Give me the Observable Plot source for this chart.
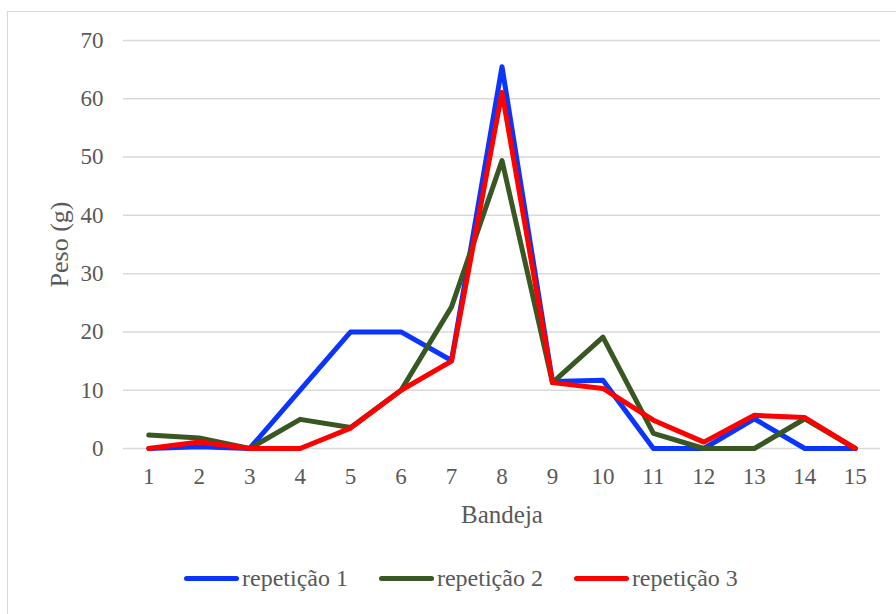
<!DOCTYPE html>
<html>
<head>
<meta charset="utf-8">
<script src="https://cdn.jsdelivr.net/npm/d3@7"></script>
<script src="https://cdn.jsdelivr.net/npm/@observablehq/plot@0.6"></script>
<style>
  html, body { margin: 0; padding: 0; background: #fff; }
  #wrap { position: relative; width: 896px; height: 614px; overflow: hidden; font-family: "Liberation Serif", "Times New Roman", serif; }
  #frame { position: absolute; left: 7px; top: 11px; width: 900px; height: 620px; border-left: 1.5px solid #d9d9d9; border-top: 1.5px solid #d9d9d9; box-sizing: border-box; }
  #chart { position: absolute; left: 0; top: 0; }
  #legend { position: absolute; left: 184px; top: 565px; display: flex; align-items: center; color: #595959; font-size: 24px; }
  .item { display: flex; align-items: center; margin-right: 31px; }
  .sw { width: 55px; height: 5px; border-radius: 3px; margin-right: 3px; }
</style>
</head>
<body>
<div id="wrap">
  <div id="frame"></div>
  <div id="chart"></div>
  <div id="legend"></div>
</div>
<script>
const bandejas = [1, 2, 3, 4, 5, 6, 7, 8, 9, 10, 11, 12, 13, 14, 15];
const rep1 = [0, 0.3, 0, 10, 20, 20, 15.1, 65.5, 11.5, 11.7, 0, 0, 5.1, 0, 0];
const rep2 = [2.3, 1.8, 0, 5.0, 3.6, 10, 24.3, 49.4, 11.3, 19.1, 2.6, 0, 0, 5.1, 0];
const rep3 = [0, 1.1, 0, 0, 3.5, 10, 15, 61.1, 11.3, 10.3, 4.85, 1.1, 5.7, 5.3, 0];
const seriesNames = ["repetição 1", "repetição 2", "repetição 3"];
const seriesColors = ["#0a35ff", "#385723", "#ff0000"];
const yTicks = [0, 10, 20, 30, 40, 50, 60, 70];
const xLabel = "Bandeja";
const yLabel = "Peso (g)";

const allSeries = [rep1, rep2, rep3];
const data = [];
allSeries.forEach((vals, si) => {
  vals.forEach((v, i) => data.push({serie: seriesNames[si], bandeja: bandejas[i], peso: v}));
});

const chart = Plot.plot({
  width: 896,
  height: 540,
  marginLeft: 123,
  marginRight: 16,
  marginTop: 40,
  marginBottom: 92,
  style: {fontFamily: "'Liberation Serif', 'Times New Roman', serif", color: "#595959", background: "transparent"},
  x: {domain: [0.5, 15.5]},
  y: {domain: [0, 70]},
  color: {domain: seriesNames, range: seriesColors},
  marks: [
    Plot.gridY(yTicks, {stroke: "#d9d9d9", strokeOpacity: 1, strokeWidth: 1.5}),
    Plot.axisY({ticks: yTicks, tickSize: 0, tickPadding: 20, fontSize: 23, label: null}),
    Plot.axisX({ticks: bandejas, tickSize: 0, tickPadding: 19, fontSize: 23, label: null, tickFormat: d => String(d)}),
    Plot.line(data, {x: "bandeja", y: "peso", z: "serie", stroke: "serie", strokeWidth: 5, strokeLinejoin: "round", strokeLinecap: "round"}),
    Plot.text([xLabel], {text: d => d, frameAnchor: "bottom", textAnchor: "middle", lineAnchor: "bottom", dy: 74, fontSize: 25, fill: "#595959"}),
    Plot.text([yLabel], {text: d => d, frameAnchor: "left", textAnchor: "middle", lineAnchor: "bottom", rotate: -90, dx: -56, fontSize: 26, fill: "#595959"})
  ]
});
document.getElementById("chart").appendChild(chart);

const legend = document.getElementById("legend");
seriesNames.forEach((name, i) => {
  const item = document.createElement("div");
  item.className = "item";
  const sw = document.createElement("div");
  sw.className = "sw";
  sw.style.background = seriesColors[i];
  const label = document.createElement("span");
  label.textContent = name;
  item.appendChild(sw);
  item.appendChild(label);
  legend.appendChild(item);
});
</script>
</body>
</html>
